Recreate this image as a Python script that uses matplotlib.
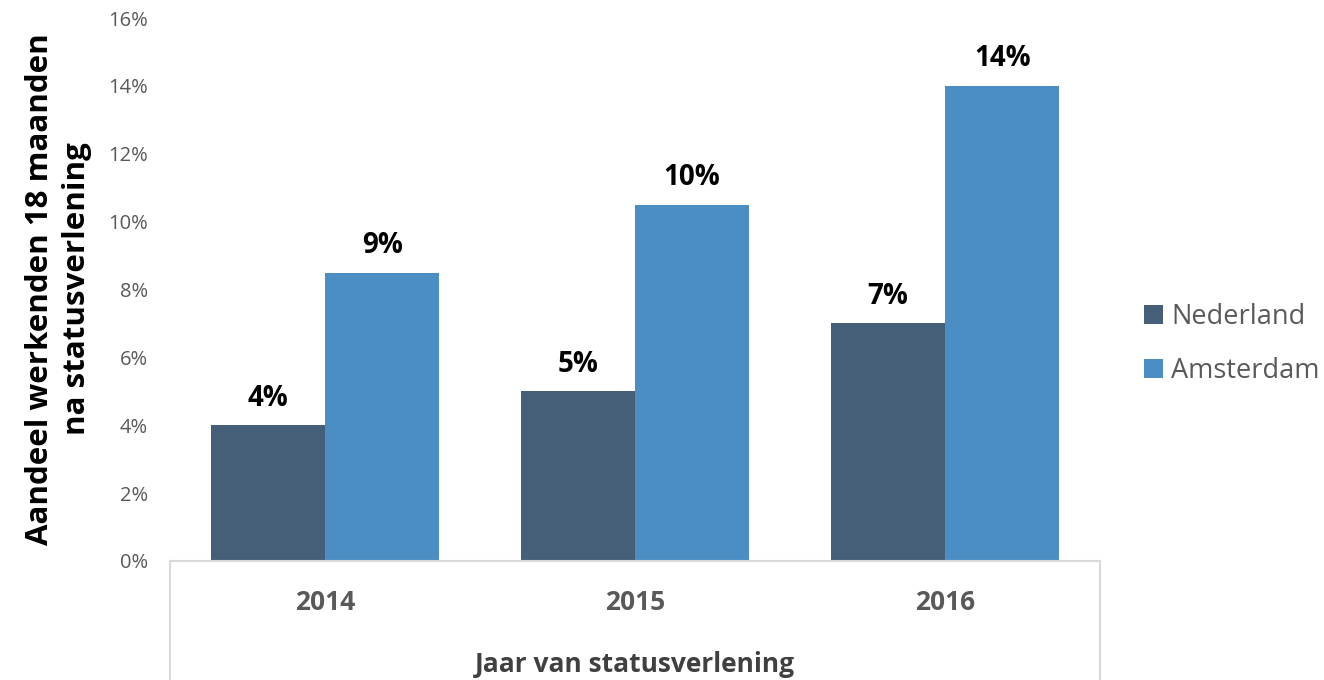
import numpy as np
import matplotlib
matplotlib.use("Agg")
import matplotlib.pyplot as plt
from matplotlib.ticker import FuncFormatter

plt.rcParams['font.family'] = ['Open Sans', 'DejaVu Sans']

years = ['2014', '2015', '2016']
nederland = [4.0, 5.0, 7.0]
amsterdam = [8.5, 10.5, 14.0]
nederland_labels = ['4%', '5%', '7%']
amsterdam_labels = ['9%', '10%', '14%']

col_nl = '#465F79'
col_adam = '#4B8EC4'
grey = '#595959'

fig = plt.figure(figsize=(13.24, 6.8), dpi=100)
ax = fig.add_axes([0.1284, 0.175, 0.7024, 0.7985])

x = np.arange(len(years))
w = 0.369
b1 = ax.bar(x - w / 2, nederland, w, color=col_nl, label='Nederland')
b2 = ax.bar(x + w / 2, amsterdam, w, color=col_adam, label='Amsterdam')

for bars, labs in ((b1, nederland_labels), (b2, amsterdam_labels)):
    for bar, lab in zip(bars, labs):
        ax.annotate(lab, (bar.get_x() + bar.get_width() / 2, bar.get_height()),
                    xytext=(0, 9), textcoords='offset points',
                    ha='center', va='bottom', fontsize=20, fontweight='bold',
                    color='black')

ax.set_xlim(-0.5, 2.5)
ax.set_ylim(0, 16)
ax.set_yticks(np.arange(0, 17, 2))
ax.yaxis.set_major_formatter(FuncFormatter(lambda v, p: '%d%%' % v))
ax.set_xticks(x)
ax.set_xticklabels(years, fontsize=19, fontweight='bold', color=grey)
ax.tick_params(axis='x', length=0, pad=20)
ax.tick_params(axis='y', length=0, pad=16, labelsize=14.5, labelcolor=grey)

for s in ('top', 'right', 'left'):
    ax.spines[s].set_visible(False)
ax.spines['bottom'].set_color('#D9D9D9')
ax.spines['bottom'].set_linewidth(1.5)

# excel-style axis box running down past the labels
for xe in (0, 1):
    ax.plot([xe, xe], [0, -0.25], transform=ax.transAxes, color='#D9D9D9',
            lw=1.5, clip_on=False)

ax.set_xlabel('Jaar van statusverlening', fontsize=19, fontweight='bold',
              color='#404040', labelpad=25)
fig.text(0.0445, 0.575, 'Aandeel werkenden 18 maanden\nna statusverlening',
         rotation=90, ha='center', va='center', fontsize=22.5,
         fontweight='bold', color='black', linespacing=1.3)

leg = fig.legend(handles=[b1, b2], loc='center left',
                 bbox_to_anchor=(0.864, 0.494), frameon=False, fontsize=19.5,
                 handlelength=0.7, handleheight=0.7, handletextpad=0.3,
                 labelspacing=0.95, borderpad=0, borderaxespad=0)
for t in leg.get_texts():
    t.set_color(grey)

fig.savefig('out.png', dpi=100)
